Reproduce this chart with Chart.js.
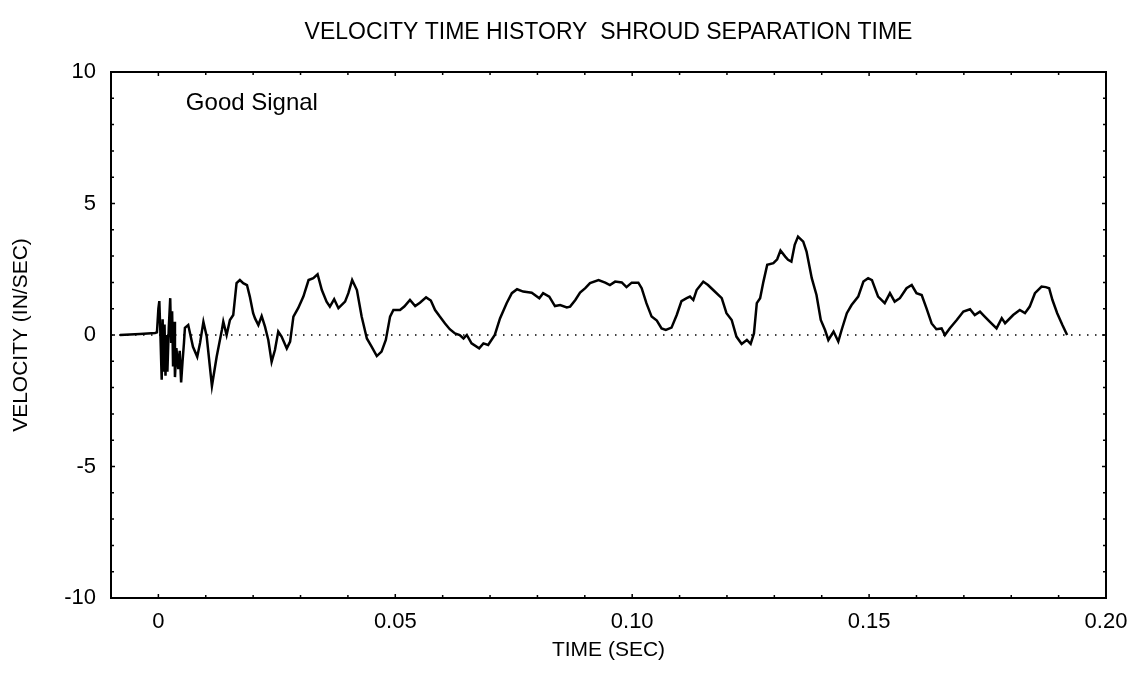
<!DOCTYPE html>
<html>
<head>
<meta charset="utf-8">
<script src="https://cdn.jsdelivr.net/npm/chart.js@4.4.0/dist/chart.umd.min.js"></script>
<style>
  body { margin: 0; background: #fff; }
  #wrap { width: 1140px; height: 689px; position: relative; }
</style>
</head>
<body>
<div id="wrap"><canvas id="velocity_chart"></canvas></div>
<script>
// time (sec) and velocity (in/sec), 10 per line
var timeSec = [
    -0.0081, -0.0039, -0.0007, -0.0003, 0.0000, 0.0002, 0.0004, 0.0007, 0.0009, 0.0011,
    0.0013, 0.0015, 0.0017, 0.0019, 0.0022, 0.0025, 0.0027, 0.0029, 0.0031, 0.0033,
    0.0035, 0.0038, 0.0042, 0.0045, 0.0048, 0.0051, 0.0054, 0.0056, 0.0063, 0.0073,
    0.0082, 0.0088, 0.0095, 0.0102, 0.0113, 0.0123, 0.0134, 0.0137, 0.0144, 0.0151,
    0.0158, 0.0165, 0.0172, 0.0179, 0.0187, 0.0193, 0.0200, 0.0204, 0.0211, 0.0218,
    0.0225, 0.0232, 0.0239, 0.0246, 0.0253, 0.0260, 0.0271, 0.0278, 0.0285, 0.0295,
    0.0306, 0.0317, 0.0327, 0.0336, 0.0345, 0.0355, 0.0362, 0.0371, 0.0380, 0.0394,
    0.0401, 0.0409, 0.0419, 0.0429, 0.0440, 0.0450, 0.0461, 0.0471, 0.0480, 0.0489,
    0.0496, 0.0510, 0.0519, 0.0531, 0.0542, 0.0552, 0.0565, 0.0575, 0.0584, 0.0594,
    0.0605, 0.0615, 0.0626, 0.0636, 0.0644, 0.0651, 0.0661, 0.0677, 0.0686, 0.0696,
    0.0710, 0.0721, 0.0735, 0.0746, 0.0757, 0.0770, 0.0788, 0.0804, 0.0812, 0.0825,
    0.0837, 0.0848, 0.0862, 0.0869, 0.0880, 0.0890, 0.0901, 0.0911, 0.0929, 0.0943,
    0.0953, 0.0964, 0.0978, 0.0988, 0.0999, 0.1013, 0.1020, 0.1030, 0.1041, 0.1052,
    0.1062, 0.1071, 0.1083, 0.1094, 0.1104, 0.1115, 0.1122, 0.1129, 0.1136, 0.1150,
    0.1160, 0.1171, 0.1189, 0.1199, 0.1210, 0.1220, 0.1231, 0.1242, 0.1250, 0.1257,
    0.1263, 0.1270, 0.1277, 0.1285, 0.1298, 0.1306, 0.1313, 0.1323, 0.1329, 0.1336,
    0.1343, 0.1350, 0.1361, 0.1368, 0.1379, 0.1389, 0.1398, 0.1407, 0.1414, 0.1425,
    0.1435, 0.1442, 0.1453, 0.1463, 0.1477, 0.1488, 0.1498, 0.1506, 0.1519, 0.1533,
    0.1544, 0.1554, 0.1565, 0.1579, 0.1590, 0.1600, 0.1611, 0.1621, 0.1632, 0.1642,
    0.1653, 0.1660, 0.1670, 0.1685, 0.1699, 0.1713, 0.1723, 0.1734, 0.1743, 0.1755,
    0.1769, 0.1780, 0.1787, 0.1804, 0.1818, 0.1829, 0.1839, 0.1850, 0.1864, 0.1873,
    0.1880, 0.1887, 0.1897, 0.1908, 0.1918
];
var velocity = [
    0.0, 0.04, 0.08, 0.1, 1.0, 1.29, 0.2, -1.7, 0.6, -1.4,
    0.4, -1.55, 0.0, -1.4, 0.3, 1.4, -0.3, 0.9, -1.2, 0.5,
    -1.6, -0.5, -1.3, -0.6, -1.8, -1.0, -0.3, 0.27, 0.38, -0.45,
    -0.83, -0.3, 0.5, -0.06, -1.94, -0.83, 0.19, 0.51, 0.0, 0.57,
    0.76, 1.97, 2.09, 1.97, 1.9, 1.46, 0.83, 0.63, 0.38, 0.72,
    0.32, -0.19, -1.02, -0.57, 0.13, -0.06, -0.51, -0.25, 0.7, 1.02,
    1.46, 2.09, 2.16, 2.31, 1.71, 1.27, 1.08, 1.36, 1.02, 1.27,
    1.59, 2.09, 1.71, 0.7, -0.13, -0.44, -0.8, -0.63, -0.19, 0.7,
    0.95, 0.95, 1.08, 1.33, 1.1, 1.23, 1.43, 1.31, 0.95, 0.7,
    0.44, 0.22, 0.06, 0.0, -0.13, 0.0, -0.32, -0.51, -0.32, -0.38,
    0.0, 0.63, 1.21, 1.59, 1.74, 1.65, 1.61, 1.4, 1.59, 1.46,
    1.1, 1.14, 1.05, 1.08, 1.33, 1.61, 1.78, 1.97, 2.09, 1.99,
    1.9, 2.03, 2.0, 1.82, 1.99, 1.99, 1.78, 1.21, 0.7, 0.55,
    0.25, 0.19, 0.28, 0.76, 1.29, 1.4, 1.46, 1.33, 1.71, 2.03,
    1.9, 1.71, 1.4, 0.83, 0.57, -0.06, -0.34, -0.19, -0.34, 0.06,
    1.21, 1.4, 2.03, 2.67, 2.73, 2.88, 3.21, 2.98, 2.86, 2.79,
    3.43, 3.74, 3.55, 3.17, 2.16, 1.52, 0.57, 0.19, -0.19, 0.13,
    -0.25, 0.19, 0.83, 1.14, 1.46, 2.03, 2.16, 2.09, 1.46, 1.21,
    1.59, 1.27, 1.4, 1.78, 1.9, 1.59, 1.52, 1.02, 0.44, 0.22,
    0.25, 0.0, 0.25, 0.57, 0.89, 0.98, 0.76, 0.89, 0.72, 0.5,
    0.25, 0.64, 0.45, 0.76, 0.95, 0.83, 1.08, 1.59, 1.84, 1.82,
    1.78, 1.33, 0.83, 0.38, 0.0
];

var xRange = [-0.01, 0.20];
var yRange = [-10, 10];
var xLabelTicks = [0, 0.05, 0.10, 0.15, 0.20];
var yLabelTicks = [-10, -5, 0, 5, 10];
var noteText = 'Good Signal';
var notePos = [0.0058, 8.8];

var fontFamily = '"Liberation Sans", Arial, Helvetica, sans-serif';
Chart.defaults.font.family = fontFamily;
Chart.defaults.color = '#000';

function isLabelTick(v, list) {
    return list.some(function(l) { return Math.abs(v - l) < 1e-9; });
}

// frame box, inward ticks and the text note
var framePlugin = {
    id: 'frame',
    afterDatasetsDraw: function(chart) {
        var ctx = chart.ctx, a = chart.chartArea;
        var xs = chart.scales.x, ys = chart.scales.y;
        ctx.save();
        ctx.strokeStyle = '#000';
        ctx.lineWidth = 1.5;
        ctx.beginPath();
        xs.ticks.forEach(function(t) {
            var px = xs.getPixelForValue(t.value);
            var len = isLabelTick(t.value, xLabelTicks) ? 4 : 3;
            ctx.moveTo(px, a.bottom); ctx.lineTo(px, a.bottom - len);
            ctx.moveTo(px, a.top); ctx.lineTo(px, a.top + len);
        });
        ys.ticks.forEach(function(t) {
            var py = ys.getPixelForValue(t.value);
            var len = isLabelTick(t.value, yLabelTicks) ? 4 : 3;
            ctx.moveTo(a.left, py); ctx.lineTo(a.left + len, py);
            ctx.moveTo(a.right, py); ctx.lineTo(a.right - len, py);
        });
        ctx.stroke();
        ctx.lineWidth = 2;
        ctx.strokeRect(a.left, a.top, a.right - a.left, a.bottom - a.top);

        ctx.fillStyle = '#000';
        ctx.font = '24px ' + fontFamily;
        ctx.textAlign = 'left';
        ctx.textBaseline = 'middle';
        ctx.fillText(noteText, xs.getPixelForValue(notePos[0]), ys.getPixelForValue(notePos[1]));
        ctx.restore();
    }
};

var points = timeSec.map(function(t, i) { return {x: t, y: velocity[i]}; });
var zeroLine = xRange.map(function(t) { return {x: t, y: 0}; });

var ctx = document.getElementById('velocity_chart').getContext('2d');
new Chart(ctx, {
    type: 'line',
    data: {
        datasets: [
            {
                label: 'Zero',
                data: zeroLine,
                borderColor: '#000',
                borderWidth: 1.3,
                borderDash: [1.5, 6.5],
                pointRadius: 0
            },
            {
                label: 'Velocity',
                data: points,
                borderColor: '#000',
                borderWidth: 2.5,
                pointRadius: 0,
                tension: 0
            }
        ]
    },
    options: {
        responsive: true,
        maintainAspectRatio: false,
        animation: false,
        layout: { padding: { left: 0, right: 34, top: 0, bottom: 0 } },
        plugins: {
            legend: { display: false },
            tooltip: { enabled: false },
            title: {
                display: true,
                fullSize: false,
                text: 'VELOCITY TIME HISTORY  SHROUD SEPARATION TIME',
                color: '#000',
                font: { size: 23, weight: 'normal' },
                padding: { top: 19.2, bottom: 25.2 }
            }
        },
        scales: {
            x: {
                type: 'linear',
                min: xRange[0],
                max: xRange[1],
                afterFit: function(s) { s.height = 91; },
                grid: { display: false, drawTicks: false },
                border: { display: false },
                ticks: {
                    stepSize: 0.01,
                    autoSkip: false,
                    maxRotation: 0,
                    padding: 11,
                    font: { size: 22 },
                    callback: function(v) {
                        if (!isLabelTick(v, xLabelTicks)) return '';
                        return Math.abs(v) < 1e-9 ? '0' : v.toFixed(2);
                    }
                },
                title: {
                    display: true,
                    text: 'TIME (SEC)',
                    font: { size: 21 },
                    padding: { top: 0, bottom: 26 }
                }
            },
            y: {
                min: yRange[0],
                max: yRange[1],
                afterFit: function(s) { s.width = 111; },
                grid: { display: false, drawTicks: false },
                border: { display: false },
                ticks: {
                    stepSize: 1,
                    autoSkip: false,
                    padding: 15,
                    font: { size: 22 },
                    callback: function(v) {
                        return isLabelTick(v, yLabelTicks) ? String(v) : '';
                    }
                },
                title: {
                    display: true,
                    text: 'VELOCITY (IN/SEC)',
                    font: { size: 21 },
                    padding: { top: 9, bottom: 0 }
                }
            }
        }
    },
    plugins: [framePlugin]
});
</script>
</body>
</html>
